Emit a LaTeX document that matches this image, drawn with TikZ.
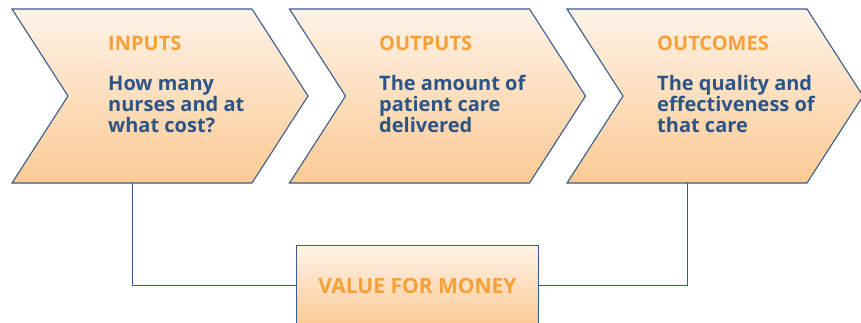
\documentclass[tikz,border=0pt]{standalone}
\usepackage{fontspec}
\setmainfont{Open Sans}
\usetikzlibrary{positioning}
\definecolor{navy}{RGB}{44,84,134}
\definecolor{edgeblue}{RGB}{58,92,140}
\definecolor{cream}{RGB}{254,243,231}
\definecolor{peach}{RGB}{251,202,148}
\definecolor{amber}{RGB}{247,160,58}
\tikzset{
  chev/.style={draw=edgeblue, line width=1.1pt, top color=cream, bottom color=peach},
  stage/.style={anchor=base west, align=left, inner sep=0pt, text=navy,
    font=\bfseries\fontsize{20}{21}\selectfont},
  vbox/.style={rectangle, draw=edgeblue, line width=1.1pt, top color=cream, bottom color=peach,
    minimum width=241.6pt, minimum height=80pt, inner sep=0pt, text=amber,
    font=\bfseries\fontsize{21}{22}\selectfont},
  link/.style={draw=edgeblue, line width=1.1pt},
}
% one arrow-shaped stage: name of its foot, left x
\newcommand{\chevron}[2]{%
  \path[chev] (#2,9) -- ++(240,0) -- ++(56,87) -- ++(-56,87) -- ++(-240,0) -- ++(56,-87) -- cycle;
  \coordinate (#1) at (#2+120.5,182);
}
\newcommand{\head}[1]{\textcolor{amber}{#1}\\[19pt]}

\begin{document}
\begin{tikzpicture}[x=1pt, y=-1pt]
  \useasboundingbox (0,0) rectangle (861,322);
  \clip (0,0) rectangle (861,322);

  \chevron{inp}{12}
  \chevron{outp}{289.5}
  \chevron{outc}{567}

  % anchored on the baseline of the last line
  \node[stage] (inputs)   at (108,132) {\head{INPUTS}How many\\nurses and at\\what cost?};
  \node[stage] (outputs)  at (379,132) {\head{OUTPUTS}The amount of\\patient care\\delivered};
  \node[stage] (outcomes) at (657,132) {\head{OUTCOMES}The quality and\\effectiveness of\\that care};

  \node[vbox] (vfm) at (417.5,285.7) {VALUE FOR MONEY};

  \draw[link] (inp) |- (vfm.west);
  \draw[link] (vfm.east) -| (outc);
\end{tikzpicture}
\end{document}
